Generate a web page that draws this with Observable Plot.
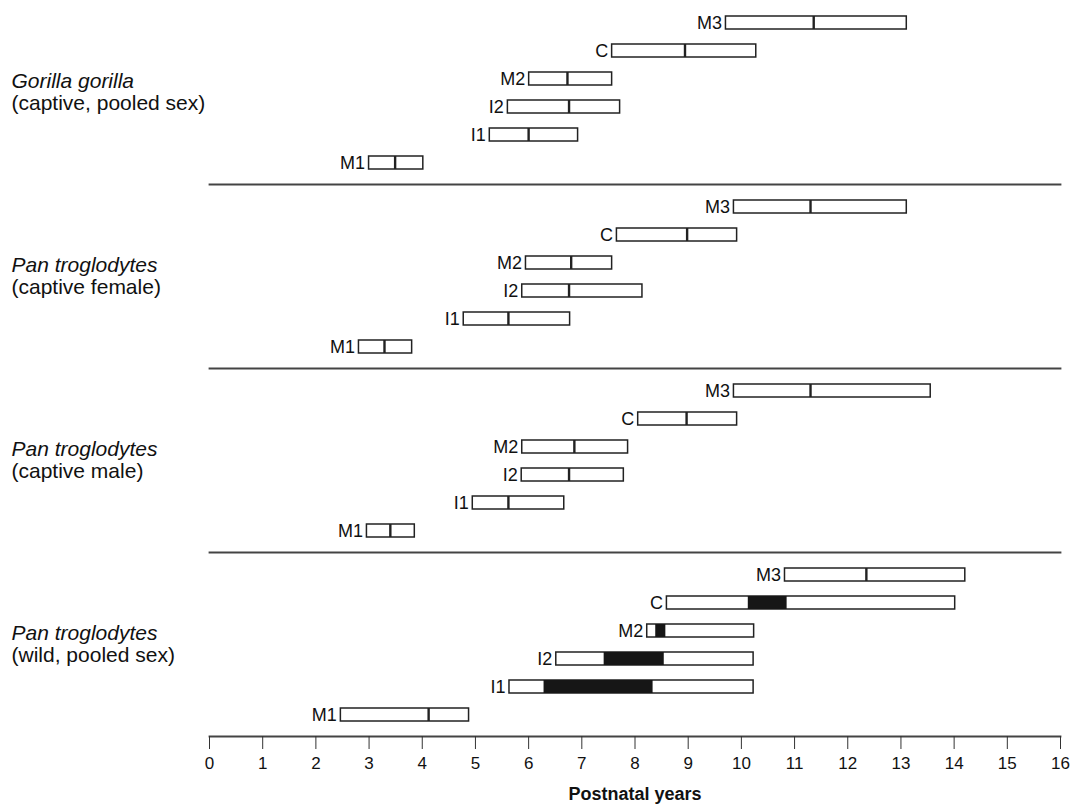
<!DOCTYPE html>
<html>
<head>
<meta charset="utf-8">
<script src="https://cdn.jsdelivr.net/npm/d3@7"></script>
<script src="https://cdn.jsdelivr.net/npm/@observablehq/plot@0.6"></script>
<style>
  html, body { margin: 0; padding: 0; background: #fff; }
  #chart svg g[aria-label="x-axis label"] text { font-weight: bold; font-size: 18px; }
</style>
</head>
<body>
<div id="chart"></div>
<script>
// Groups (top to bottom)
const groups = ["gorilla", "female", "male", "wild"];
const speciesNames = ["Gorilla gorilla", "Pan troglodytes", "Pan troglodytes", "Pan troglodytes"];
const conditions = ["(captive, pooled sex)", "(captive female)", "(captive male)", "(wild, pooled sex)"];

// Teeth (top to bottom within each group)
const teeth = ["M3", "C", "M2", "I2", "I1", "M1"];

// Emergence age ranges (years), in teeth order
const gorillaMin    = [9.71, 7.57, 6.01, 5.61, 5.27, 3.00];
const gorillaMedian = [11.36, 8.94, 6.73, 6.76, 6.00, 3.49];
const gorillaMax    = [13.11, 10.28, 7.57, 7.72, 6.93, 4.02];

const femaleMin    = [9.86, 7.66, 5.95, 5.88, 4.78, 2.81];
const femaleMedian = [11.30, 8.98, 6.80, 6.76, 5.62, 3.29];
const femaleMax    = [13.11, 9.92, 7.57, 8.14, 6.78, 3.81];

const maleMin    = [9.86, 8.06, 5.88, 5.87, 4.95, 2.96];
const maleMedian = [11.30, 8.97, 6.86, 6.76, 5.62, 3.40];
const maleMax    = [13.56, 9.92, 7.87, 7.79, 6.67, 3.86];

const wildMin    = [10.82, 8.60, 8.23, 6.52, 5.64, 2.47];
const wildMedian = [12.35, null, null, null, null, 4.12];
const wildMax    = [14.21, 14.02, 10.24, 10.23, 10.23, 4.88];
// Wild: observed (filled) ranges
const wildFilledLo = [null, 10.13, 8.39, 7.42, 6.29, null];
const wildFilledHi = [null, 10.86, 8.58, 8.55, 8.34, null];

const xTicks = [0, 1, 2, 3, 4, 5, 6, 7, 8, 9, 10, 11, 12, 13, 14, 15, 16];

// Build tables
const series = {
  gorilla: [gorillaMin, gorillaMedian, gorillaMax],
  female: [femaleMin, femaleMedian, femaleMax],
  male: [maleMin, maleMedian, maleMax],
  wild: [wildMin, wildMedian, wildMax]
};
const rows = [];
for (const g of groups) {
  const [mn, md, mx] = series[g];
  teeth.forEach((t, i) => rows.push({group: g, tooth: t, min: mn[i], median: md[i], max: mx[i]}));
}
const medianRows = rows.filter(d => d.median != null);
const filledRows = teeth.map((t, i) => ({group: "wild", tooth: t, lo: wildFilledLo[i], hi: wildFilledHi[i]}))
  .filter(d => d.lo != null);
const groupLabels = groups.map((g, i) => ({group: g, species: speciesNames[i], condition: conditions[i]}));

const font = "'Liberation Sans', Arial, Helvetica, sans-serif";

const chart = Plot.plot({
  width: 1072,
  height: 805,
  marginLeft: 209,
  marginRight: 12,
  marginTop: 0,
  marginBottom: 69,
  style: {fontFamily: font, background: "#fff", color: "#111"},
  x: {domain: [0, 16], axis: null},
  y: {domain: teeth, paddingInner: 0.536, paddingOuter: 0.55, axis: null},
  fy: {domain: groups, padding: 0, axis: null},
  marks: [
    Plot.frame({anchor: "bottom", stroke: "#444", strokeWidth: 1.8}),
    Plot.axisX({
      ticks: xTicks,
      tickSize: 13,
      tickPadding: 7,
      fontSize: 17,
      stroke: "#333",
      label: "Postnatal years",
      labelAnchor: "center",
      labelArrow: "none",
      labelOffset: 63
    }),
    Plot.barX(rows, {x1: "min", x2: "max", y: "tooth", fy: "group", fill: "white", stroke: "#222", strokeWidth: 1.5}),
    Plot.barX(filledRows, {x1: "lo", x2: "hi", y: "tooth", fy: "group", fill: "#161616"}),
    Plot.tickX(medianRows, {x: "median", y: "tooth", fy: "group", stroke: "#222", strokeWidth: 2.4}),
    Plot.text(rows, {x: "min", y: "tooth", fy: "group", text: "tooth", textAnchor: "end", dx: -4, fontSize: 18, fill: "#111"}),
    Plot.text(groupLabels, {fy: "group", text: "species", frameAnchor: "left", textAnchor: "start", dx: -198, dy: -11, fontSize: 21, fontStyle: "italic", fill: "#111"}),
    Plot.text(groupLabels, {fy: "group", text: "condition", frameAnchor: "left", textAnchor: "start", dx: -198, dy: 11, fontSize: 21, fill: "#111"})
  ]
});
document.getElementById("chart").appendChild(chart);
</script>
</body>
</html>
